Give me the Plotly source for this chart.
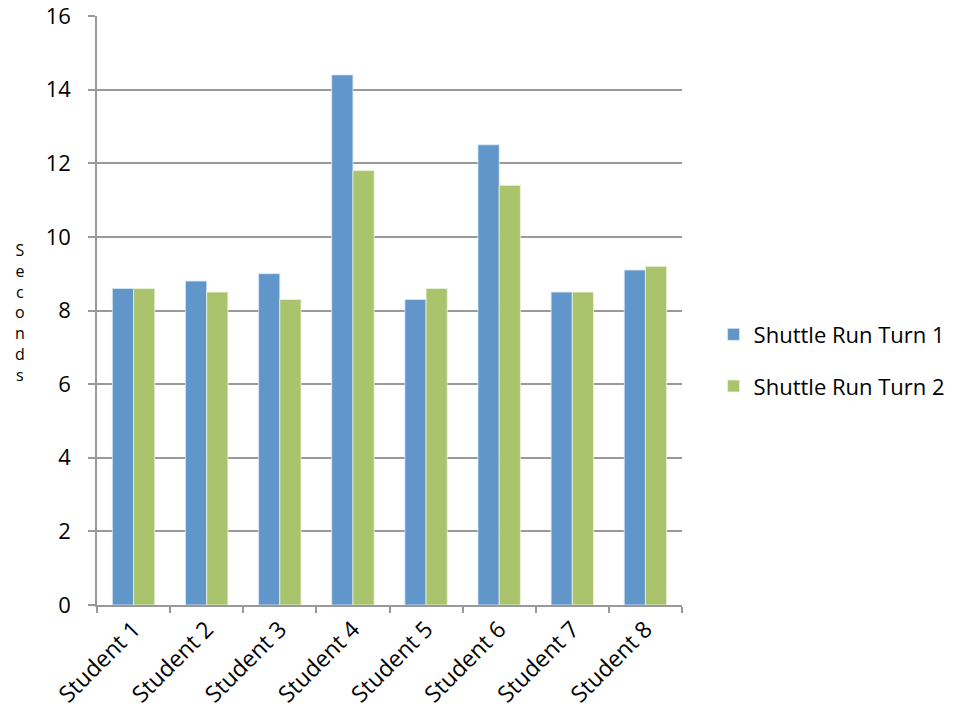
import plotly.graph_objects as go

categories = ["Student 1", "Student 2", "Student 3", "Student 4",
              "Student 5", "Student 6", "Student 7", "Student 8"]
turn1 = [8.6, 8.8, 9.0, 14.4, 8.3, 12.5, 8.5, 9.1]
turn2 = [8.6, 8.5, 8.3, 11.8, 8.6, 11.4, 8.5, 9.2]
series_names = ["Shuttle Run Turn 1", "Shuttle Run Turn 2"]
y_ticks = [0, 2, 4, 6, 8, 10, 12, 14, 16]
y_title = "Seconds"

FONT = "Open Sans"
fig = go.Figure()
fig.add_trace(go.Bar(x=categories, y=turn1, name=series_names[0],
                     marker=dict(color="#6096CA", line=dict(color="#DCE8F4", width=0.8)),
                     legendgroup="a"))
fig.add_trace(go.Bar(x=categories, y=turn2, name=series_names[1],
                     marker=dict(color="#A9C46C", line=dict(color="#EEF4E0", width=0.8)),
                     legendgroup="b"))

fig.update_layout(
    width=956, height=721,
    margin=dict(l=97, r=274, t=16, b=116, autoexpand=False),
    paper_bgcolor="white", plot_bgcolor="white",
    barmode="group", bargap=0.42, bargroupgap=0,
    font=dict(family=FONT, size=23, color="#000000"),
    showlegend=True,
    legend=dict(x=1.054, y=0.415, xanchor="left", yanchor="middle",
                font=dict(size=22, family=FONT), tracegroupgap=20,
                itemwidth=30, bgcolor="rgba(0,0,0,0)"),
    xaxis=dict(
        type="category", tickson="boundaries", ticks="outside", ticklen=6,
        tickcolor="#999999", tickwidth=1.5,
        showline=True, linecolor="#999999", linewidth=1.5,
        tickangle=-45, tickfont=dict(size=23, family=FONT),
        showgrid=False, automargin=False, ticklabeloverflow="allow",
    ),
    yaxis=dict(
        range=[0, 16], tickvals=y_ticks, ticks="outside", ticklen=7,
        tickcolor="#999999", tickwidth=1.5,
        showline=True, linecolor="#999999", linewidth=1.5,
        showgrid=True, gridcolor="#999999", gridwidth=1.5,
        tickfont=dict(size=22, family=FONT), zeroline=False,
        automargin=False, ticklabelstandoff=13, ticklabeloverflow="allow",
    ),
    annotations=[dict(
        text="<br>".join(y_title),
        xref="paper", yref="paper", x=-0.131, y=0.497,
        xanchor="center", yanchor="middle", showarrow=False,
        font=dict(size=16, family=FONT, color="#000000"),
    )],
)

fig.write_html("out.html")
